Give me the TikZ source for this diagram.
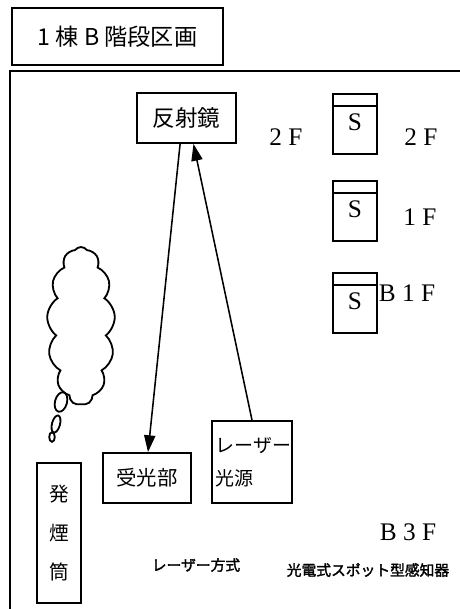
\documentclass[tikz,border=0pt]{standalone}
\usepackage{fontspec}
\newfontfamily\jp{Noto Sans CJK JP}
\newfontfamily\jpbold[FakeBold=2]{Noto Sans CJK JP}
\newfontfamily\lat{Liberation Serif}
\usetikzlibrary{arrows.meta,shapes.symbols}

\begin{document}
\begin{tikzpicture}[x=0.25mm,y=-0.25mm,line width=1.3pt,
  box/.style={draw,inner sep=0pt,align=center},
  flr/.style={font=\lat\fontsize{18}{20}\selectfont},
  ray/.style={-{Triangle[length=4.2mm,width=2.8mm]},line width=1.1pt}]
\useasboundingbox (0,0) rectangle (460,609);

% header and frame
\node[box,minimum width=52.75mm,minimum height=14.25mm,
  font=\jp\fontsize{16.5}{18}\selectfont] (title) at (117.5,36.5) {1 棟 B 階段区画};
\coordinate (frR) at (460,71);
\coordinate (frC) at (10,71);
\coordinate (frB) at (10,609);
\draw (frR)--(frC)--(frB);

% laser beam
\node[box,minimum width=24.75mm,minimum height=12.5mm,
  font=\jp\fontsize{16}{18}\selectfont] (mirror) at (186.5,118) {反射鏡};
\node[box,minimum width=22mm,minimum height=12.5mm,
  font=\jp\fontsize{14.5}{16}\selectfont] (recv) at (147,478) {受光部};
\node[box,minimum width=20mm,minimum height=20.5mm,text width=18mm,align=left,
  font=\jp\fontsize{13.5}{23.5}\selectfont] (laser) at (252,462) {レーザー\\光源};
\draw[ray] ([xshift=-1.6mm]mirror.south) -- ([xshift=0.25mm]recv.north);
\draw[ray] (laser.north) -- ([xshift=1.75mm]mirror.south);

% spot detectors
\foreach \yy/\nm in {94/a,181/b,273/c}{
  \node[box,minimum width=11mm,minimum height=15mm] (det\nm) at (355,\yy+30) {};
  \draw ([yshift=-3.25mm]det\nm.north west) -- ([yshift=-3.25mm]det\nm.north east);
  \node[font=\lat\fontsize{18}{20}\selectfont] (s\nm) at (355,\yy+28) {S};
}

\node[flr] (lf2l) at (286,137) {2 F};
\node[flr] (lf2r) at (421,137) {2 F};
\node[flr] (lf1) at (420,217) {1 F};
\node[flr] (lfb1) at (407,293) {B 1 F};
\node[flr] (lfb3) at (408,532) {B 3 F};

% smoke
\node[draw,cloud,cloud puffs=13,cloud puff arc=110,cloud ignores aspect,
  minimum width=17mm,minimum height=39.5mm,line width=1.3pt] (smoke) at (81,326) {};
\draw[rotate around={-15:(61,402)}] (61,402) ellipse [x radius=1.5mm,y radius=2.5mm];
\draw[rotate around={-15:(56,424)}] (56,424) ellipse [x radius=1mm,y radius=2.2mm];
\draw (52,437) ellipse [x radius=0.7mm,y radius=1.2mm];
\node[box,minimum width=11mm,minimum height=35mm,
  font=\jp\fontsize{14}{27.7}\selectfont] (tube) at (59,533) {発\\煙\\筒};

\node[font=\jpbold\fontsize{10.5}{12}\selectfont] (cap1) at (196,565) {レーザー方式};
\node[font=\jpbold\fontsize{10.5}{12}\selectfont] (cap2) at (368,570) {光電式スポット型感知器};
\end{tikzpicture}
\end{document}
